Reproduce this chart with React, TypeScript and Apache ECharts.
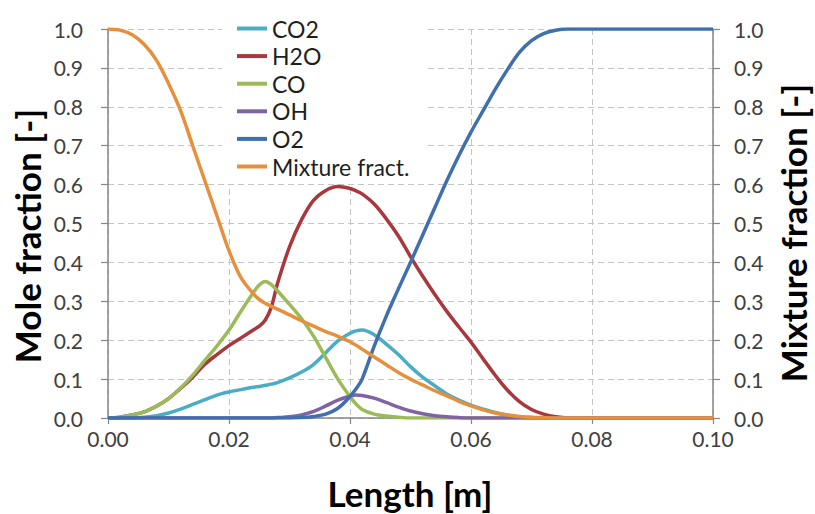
import React, { useEffect, useRef } from "react";
import * as echarts from "echarts";

const length = [0, 0.002, 0.004, 0.006, 0.008, 0.010, 0.012, 0.014, 0.016, 0.018, 0.020, 0.022, 0.024, 0.025, 0.026, 0.027, 0.028, 0.030, 0.032, 0.034, 0.036, 0.038, 0.040, 0.041, 0.042, 0.044, 0.046, 0.048, 0.050, 0.052, 0.054, 0.056, 0.058, 0.060, 0.062, 0.064, 0.066, 0.068, 0.070, 0.072, 0.074, 0.076, 0.078, 0.080, 0.085, 0.090, 0.095, 0.100];

const co2 = [0, 0, 0, 0.002, 0.006, 0.013, 0.023, 0.035, 0.047, 0.059, 0.067, 0.073, 0.079, 0.081, 0.084, 0.087, 0.091, 0.103, 0.118, 0.138, 0.168, 0.198, 0.218, 0.224, 0.226, 0.214, 0.19, 0.163, 0.132, 0.105, 0.083, 0.062, 0.046, 0.033, 0.023, 0.014, 0.007, 0.003, 0.001, 0, 0, 0, 0, 0, 0, 0, 0, 0];
const h2o = [0, 0.002, 0.008, 0.016, 0.03, 0.05, 0.076, 0.105, 0.138, 0.163, 0.186, 0.206, 0.226, 0.236, 0.252, 0.285, 0.345, 0.44, 0.51, 0.56, 0.585, 0.595, 0.59, 0.584, 0.576, 0.55, 0.512, 0.468, 0.415, 0.365, 0.318, 0.274, 0.234, 0.195, 0.152, 0.11, 0.072, 0.042, 0.022, 0.01, 0.003, 0, 0, 0, 0, 0, 0, 0];
const co = [0, 0.002, 0.008, 0.016, 0.03, 0.05, 0.077, 0.11, 0.148, 0.185, 0.226, 0.275, 0.322, 0.342, 0.351, 0.343, 0.327, 0.292, 0.255, 0.21, 0.155, 0.1, 0.055, 0.036, 0.022, 0.01, 0.005, 0.002, 0, 0, 0, 0, 0, 0, 0, 0, 0, 0, 0, 0, 0, 0, 0, 0, 0, 0, 0, 0];
const oh = [0, 0, 0, 0, 0, 0, 0, 0, 0, 0, 0, 0, 0, 0, 0, 0, 0.001, 0.003, 0.008, 0.017, 0.031, 0.046, 0.056, 0.059, 0.058, 0.051, 0.04, 0.028, 0.018, 0.011, 0.006, 0.003, 0.001, 0, 0, 0, 0, 0, 0, 0, 0, 0, 0, 0, 0, 0, 0, 0];
const o2 = [0, 0, 0, 0, 0, 0, 0, 0, 0, 0, 0, 0, 0, 0, 0, 0, 0, 0, 0.001, 0.004, 0.01, 0.025, 0.055, 0.075, 0.1, 0.185, 0.262, 0.332, 0.4, 0.47, 0.54, 0.61, 0.675, 0.735, 0.79, 0.845, 0.895, 0.94, 0.97, 0.988, 0.997, 1, 1, 1, 1, 1, 1, 1];
const mixture = [1, 0.997, 0.985, 0.96, 0.92, 0.86, 0.79, 0.7, 0.61, 0.52, 0.43, 0.36, 0.32, 0.305, 0.295, 0.287, 0.28, 0.265, 0.25, 0.236, 0.222, 0.21, 0.196, 0.187, 0.177, 0.157, 0.137, 0.117, 0.1, 0.085, 0.07, 0.057, 0.043, 0.031, 0.021, 0.013, 0.008, 0.004, 0.002, 0.001, 0, 0, 0, 0, 0, 0, 0, 0];

const seriesNames = ["CO2", "H2O", "CO", "OH", "O2", "Mixture fract."];
const seriesColors = ["#4BACC6", "#A8383B", "#9BBB59", "#8064A2", "#3F6FAE", "#E6903E"];
const seriesValues = [co2, h2o, co, oh, o2, mixture];
const seriesAxis = [0, 0, 0, 0, 0, 1];

const xAxisTitle = "Length [m]";
const leftAxisTitle = "Mole fraction [-]";
const rightAxisTitle = "Mixture fraction [-]";

const FONT = "Lato, 'Open Sans', sans-serif";

export default function App() {
  const ref = useRef<HTMLDivElement>(null);
  useEffect(() => {
    if (!ref.current) return;
    const chart = echarts.init(ref.current, undefined, { renderer: "svg" });
    const gridLine = { show: true, lineStyle: { color: "#C4C4C4", type: [6, 4], width: 1 } };
    const axisLine = { show: true, lineStyle: { color: "#868686", width: 1.5 } };
    const titleStyle = { fontSize: 35, lineHeight: 35, fontWeight: "bold", fill: "#000", fontFamily: FONT, align: "center", verticalAlign: "middle" };
    const yAxisCommon = {
      type: "value",
      min: 0,
      max: 1,
      interval: 0.1,
      axisLine,
      axisTick: { show: true, length: 7, lineStyle: { color: "#868686", width: 1.2 } },
    };
    chart.setOption({
      animation: false,
      grid: { left: 108, right: 102, top: 29, bottom: 96, outerBoundsMode: "none", containLabel: false },
      graphic: [
        { type: "text", x: 410, y: 493, style: { ...titleStyle, text: xAxisTitle } },
        { type: "text", x: 27, y: 236, rotation: Math.PI / 2, style: { ...titleStyle, text: leftAxisTitle } },
        { type: "text", x: 793, y: 233, rotation: Math.PI / 2, style: { ...titleStyle, text: rightAxisTitle } },
      ],
      legend: {
        orient: "vertical",
        left: 222,
        top: 9,
        padding: [8, 17, 6, 15],
        backgroundColor: "#ffffff",
        icon: "rect",
        itemWidth: 30,
        itemHeight: 4,
        itemGap: 4.6,
        textStyle: { fontSize: 23, lineHeight: 22, color: "#1F1F1F", fontFamily: FONT },
        data: seriesNames,
      },
      xAxis: {
        type: "value",
        min: 0,
        max: 0.1,
        interval: 0.02,
        axisLine,
        axisTick: { show: true, length: 6, lineStyle: { color: "#868686", width: 1.2 } },
        axisLabel: {
          margin: 10,
          fontSize: 21,
          color: "#404040",
          fontFamily: FONT,
          formatter: (v: number) => v.toFixed(2),
        },
        splitLine: gridLine,
      },
      yAxis: [
        {
          ...yAxisCommon,
          position: "left",
          axisLabel: { margin: 25, fontSize: 21, color: "#404040", fontFamily: FONT, formatter: (v: number) => v.toFixed(1) },
          splitLine: gridLine,
        },
        {
          ...yAxisCommon,
          position: "right",
          axisLabel: { margin: 21, fontSize: 21, color: "#404040", fontFamily: FONT, formatter: (v: number) => v.toFixed(1) },
          splitLine: { show: false },
        },
      ],
      series: seriesNames.map((name, i) => ({
        name,
        type: "line",
        yAxisIndex: seriesAxis[i],
        data: length.map((x, j) => [x, seriesValues[i][j]]),
        showSymbol: false,
        smooth: 0.35,
        lineStyle: { width: 3.5, color: seriesColors[i] },
        itemStyle: { color: seriesColors[i] },
      })),
    });
    return () => chart.dispose();
  }, []);
  return (
    <div
      ref={ref}
      style={{ position: "fixed", left: 0, top: 0, width: 815, height: 514, background: "#fff" }}
    />
  );
}
